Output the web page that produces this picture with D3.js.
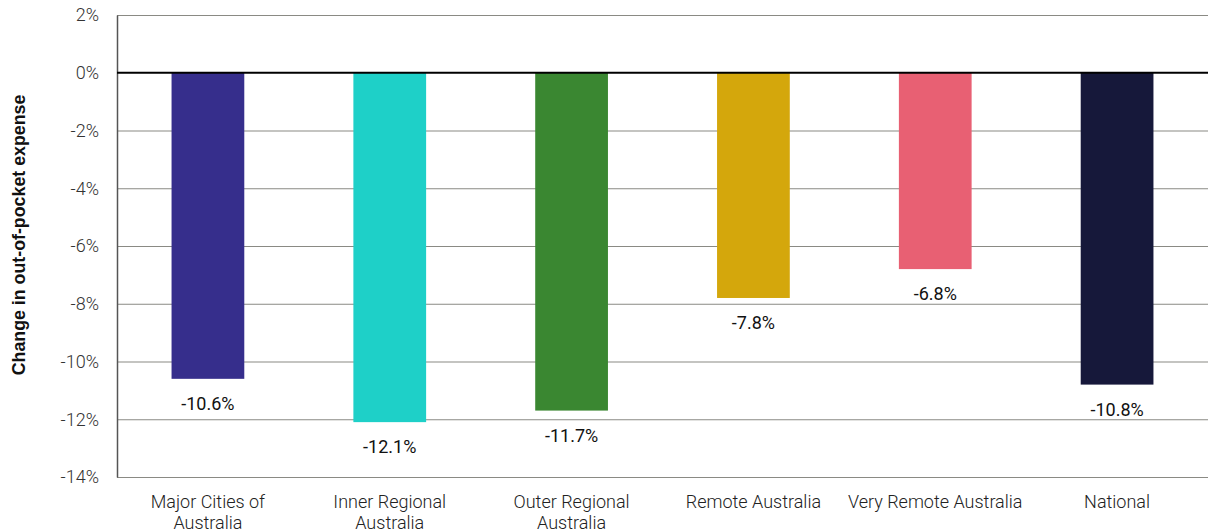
<!DOCTYPE html>
<html>
<head>
<meta charset="utf-8">
<script src="https://cdn.jsdelivr.net/npm/d3@7"></script>
<style>
  html, body { margin: 0; padding: 0; background: #fff; }
  svg { display: block; font-family: Roboto, "Noto Sans", sans-serif; }
</style>
</head>
<body>
<svg id="chart" width="1208" height="532"></svg>
<script>
// Change in out-of-pocket expense by remoteness area
const categories = [
  ["Major Cities of", "Australia"],
  ["Inner Regional", "Australia"],
  ["Outer Regional", "Australia"],
  ["Remote Australia"],
  ["Very Remote Australia"],
  ["National"]
];
const values = [-10.6, -12.1, -11.7, -7.8, -6.8, -10.8];
const barColors = ["#362e8c", "#1ed0c8", "#3a8731", "#d4a70c", "#e86073", "#16183a"];
const yTicks = [2, 0, -2, -4, -6, -8, -10, -12, -14];
const yTitle = "Change in out-of-pocket expense";

const svg = d3.select("#chart");
const margin = { top: 15, right: 0, bottom: 55, left: 117 };
const width = 1208, height = 532;
const innerW = width - margin.left - margin.right;
const innerH = height - margin.top - margin.bottom;

const g = svg.append("g").attr("transform", `translate(${margin.left},${margin.top})`);

const x = d3.scaleBand()
  .domain(categories.map((d, i) => i))
  .range([0, innerW])
  .paddingInner(0.6)
  .paddingOuter(0.3);

const y = d3.scaleLinear().domain([-14, 2]).range([innerH, 0]);

// Horizontal gridlines
g.append("g")
  .selectAll("line")
  .data(yTicks.filter(t => t !== 0))
  .join("line")
  .attr("x1", 0).attr("x2", innerW)
  .attr("y1", d => y(d) + 0.5).attr("y2", d => y(d) + 0.5)
  .attr("stroke", "#8a8a84")
  .attr("stroke-width", 1.2);

// Y axis with percentage labels
const yAxis = g.append("g")
  .call(d3.axisLeft(y).tickValues(yTicks).tickSize(0).tickPadding(18).tickFormat(d => d + "%"));
yAxis.select(".domain").attr("stroke", "#555").attr("stroke-width", 1.5);
yAxis.selectAll("text")
  .attr("font-size", 18)
  .attr("font-weight", 300)
  .attr("fill", "#333")
  .attr("font-family", "Roboto, sans-serif");

// Bars
g.append("g")
  .selectAll("rect")
  .data(values)
  .join("rect")
  .attr("x", (d, i) => x(i))
  .attr("width", x.bandwidth())
  .attr("y", d => y(Math.max(0, d)))
  .attr("height", d => Math.abs(y(d) - y(0)))
  .attr("fill", (d, i) => barColors[i]);

// Zero baseline
g.append("line")
  .attr("x1", 0).attr("x2", innerW)
  .attr("y1", y(0)).attr("y2", y(0))
  .attr("stroke", "#000")
  .attr("stroke-width", 2);

// Value labels below each bar
g.append("g")
  .selectAll("text")
  .data(values)
  .join("text")
  .attr("x", (d, i) => x(i) + x.bandwidth() / 2)
  .attr("y", d => y(d) + 31)
  .attr("text-anchor", "middle")
  .attr("font-size", 18)
  .attr("fill", "#111")
  .text(d => d.toFixed(1) + "%");

// Category labels
const catG = g.append("g").attr("transform", `translate(0,${innerH})`);
categories.forEach((lines, i) => {
  const t = catG.append("text")
    .attr("x", x(i) + x.bandwidth() / 2)
    .attr("y", 31)
    .attr("text-anchor", "middle")
    .attr("font-size", 18)
    .attr("font-weight", 300)
    .attr("fill", "#222");
  lines.forEach((ln, j) => {
    t.append("tspan")
      .attr("x", x(i) + x.bandwidth() / 2)
      .attr("dy", j === 0 ? 0 : 21)
      .text(ln);
  });
});

// Y axis title
svg.append("text")
  .attr("transform", `translate(25,${margin.top + innerH / 2 - 11}) rotate(-90)`)
  .attr("text-anchor", "middle")
  .attr("font-size", 17.8)
  .attr("font-weight", "bold")
  .attr("font-family", "'Liberation Sans', Arial, sans-serif")
  .attr("fill", "#111")
  .text(yTitle);
</script>
</body>
</html>
